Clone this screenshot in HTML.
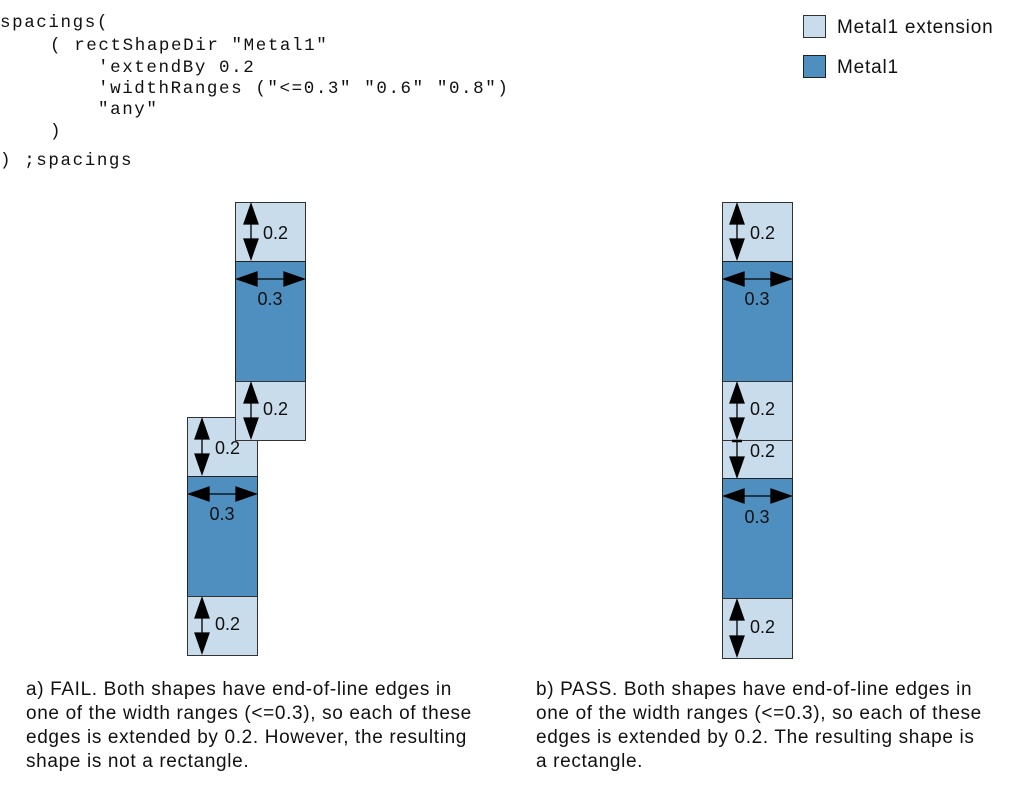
<!DOCTYPE html>
<html><head><meta charset="utf-8"><style>
html,body{margin:0;padding:0;background:#fff;width:1013px;height:801px;overflow:hidden}
svg{display:block}
.code{font-family:"Liberation Mono",monospace;font-size:17.5px;letter-spacing:1.6px;fill:#111;white-space:pre}
.lbl{font-family:"Liberation Sans",sans-serif;font-size:18px;fill:#111}
.cap{font-family:"Liberation Sans",sans-serif;font-size:19px;letter-spacing:0.65px;fill:#111}
.lt{fill:#c9dcec;stroke:#333;stroke-width:1}
.dk{fill:#4f8fc0;stroke:#222;stroke-width:1}
</style></head><body>
<svg width="1013" height="801" xmlns="http://www.w3.org/2000/svg">
<g class="code">
<text x="0" y="27">spacings(</text>
<text x="50" y="50">( rectShapeDir "Metal1"</text>
<text x="98" y="72">'extendBy 0.2</text>
<text x="98" y="93">'widthRanges ("&lt;=0.3" "0.6" "0.8")</text>
<text x="98" y="114">"any"</text>
<text x="50" y="136">)</text>
<text x="0" y="165">) ;spacings</text>
</g>
<rect x="803.5" y="15.5" width="22" height="22" class="lt"/>
<text x="837" y="33" class="lbl" style="font-size:19px;letter-spacing:0.8px">Metal1 extension</text>
<rect x="803.5" y="55.5" width="22" height="22" class="dk"/>
<text x="837" y="73" class="lbl" style="font-size:19px;letter-spacing:0.8px">Metal1</text>

<rect x="187.5" y="417.5" width="70" height="59" class="lt"/>
<rect x="187.5" y="476.5" width="70" height="120" class="dk"/>
<rect x="187.5" y="596.5" width="70" height="59" class="lt"/>
<rect x="235.5" y="202.5" width="70" height="59" class="lt"/>
<rect x="235.5" y="261.5" width="70" height="120" class="dk"/>
<rect x="235.5" y="381.5" width="70" height="59" class="lt"/>
<rect x="722.5" y="202.5" width="70" height="59" class="lt"/>
<rect x="722.5" y="261.5" width="70" height="120" class="dk"/>
<rect x="722.5" y="381.5" width="70" height="59" class="lt"/>
<rect x="722.5" y="440.5" width="70" height="38" class="lt"/>
<rect x="722.5" y="478.5" width="70" height="120" class="dk"/>
<rect x="722.5" y="598.5" width="70" height="60" class="lt"/>

<g fill="#000" stroke="#000" stroke-width="1.3">
<line x1="251" y1="215" x2="251" y2="250"/><polygon points="251,204 244,224 258,224"/><polygon points="251,259 244,239 258,239"/>
<line x1="251" y1="394" x2="251" y2="428"/><polygon points="251,383 244,403 258,403"/><polygon points="251,438 244,418 258,418"/>
<line x1="202" y1="430" x2="202" y2="465"/><polygon points="202,419 195,439 209,439"/><polygon points="202,474 195,454 209,454"/>
<line x1="202" y1="609" x2="202" y2="644"/><polygon points="202,598 195,618 209,618"/><polygon points="202,653 195,633 209,633"/>
<line x1="737" y1="215" x2="737" y2="250"/><polygon points="737,204 730,224 744,224"/><polygon points="737,259 730,239 744,239"/>
<line x1="737" y1="394" x2="737" y2="428"/><polygon points="737,383 730,403 744,403"/><polygon points="737,438 730,418 744,418"/>
<line x1="737" y1="440" x2="737" y2="465"/><line x1="732" y1="441" x2="742" y2="441" stroke-width="2.5"/><polygon points="737,477 730,457 744,457"/>
<line x1="737" y1="611" x2="737" y2="646"/><polygon points="737,600 730,620 744,620"/><polygon points="737,656 730,636 744,636"/>
<line x1="250" y1="279" x2="290" y2="279"/><polygon points="237,279 257,272 257,286"/><polygon points="304,279 284,272 284,286"/>
<line x1="202" y1="494" x2="242" y2="494"/><polygon points="189,494 209,487 209,501"/><polygon points="256,494 236,487 236,501"/>
<line x1="737" y1="279" x2="777" y2="279"/><polygon points="724,279 744,272 744,286"/><polygon points="791,279 771,272 771,286"/>
<line x1="737" y1="496" x2="777" y2="496"/><polygon points="724,496 744,489 744,503"/><polygon points="791,496 771,489 771,503"/>
</g>
<g class="lbl">
<text x="263" y="239">0.2</text>
<text x="270" y="305" text-anchor="middle">0.3</text>
<text x="263" y="415">0.2</text>
<text x="215" y="454">0.2</text>
<text x="222" y="520" text-anchor="middle">0.3</text>
<text x="215" y="630">0.2</text>
<text x="750" y="239">0.2</text>
<text x="757" y="305" text-anchor="middle">0.3</text>
<text x="750" y="415">0.2</text>
<text x="750" y="457">0.2</text>
<text x="757" y="523" text-anchor="middle">0.3</text>
<text x="750" y="633">0.2</text>
</g>
<g class="cap">
<text x="26" y="695">a) FAIL. Both shapes have end-of-line edges in</text>
<text x="26" y="719">one of the width ranges (&lt;=0.3), so each of these</text>
<text x="26" y="743">edges is extended by 0.2. However, the resulting</text>
<text x="26" y="767">shape is not a rectangle.</text>
<text x="536" y="695">b) PASS. Both shapes have end-of-line edges in</text>
<text x="536" y="719">one of the width ranges (&lt;=0.3), so each of these</text>
<text x="536" y="743">edges is extended by 0.2. The resulting shape is</text>
<text x="536" y="767">a rectangle.</text>
</g>
</svg>
</body></html>
